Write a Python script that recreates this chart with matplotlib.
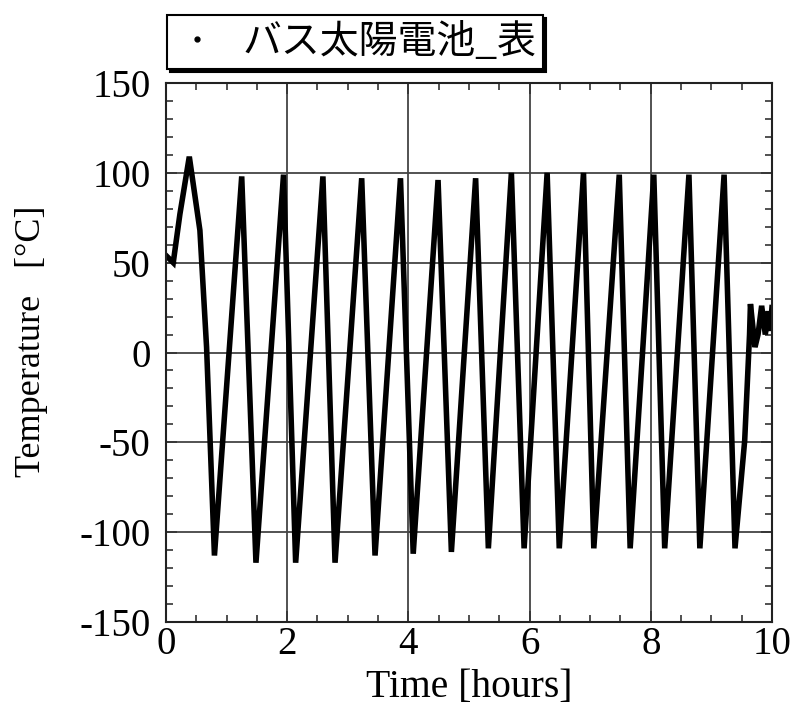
import numpy as np
import matplotlib.pyplot as plt
from matplotlib.lines import Line2D
from matplotlib.ticker import MultipleLocator

# 熱サイクル試験データ（バス太陽電池 表面温度）
time_h = [0.00, 0.12, 0.23, 0.385, 0.56, 0.67, 0.80,
          1.25, 1.485, 1.94, 2.14, 2.59, 2.79, 3.23, 3.45,
          3.87, 4.08, 4.49, 4.71, 5.11, 5.32, 5.70, 5.91,
          6.29, 6.49, 6.89, 7.06, 7.48, 7.66, 8.05, 8.23,
          8.63, 8.81, 9.21, 9.39, 9.55, 9.63, 9.645, 9.72,
          9.77, 9.83, 9.89, 9.94, 9.97, 10.0]
temp_c = [54, 50, 77, 109, 68, 3, -113,
          98, -117, 99, -117, 98, -117, 97, -113,
          97, -112, 96, -111, 97, -109, 100, -109,
          100, -109, 100, -109, 99, -109, 99, -109,
          99, -109, 99, -109, -49, 10, 27, 3,
          10, 26, 10, 23, 12, 25]

series_label = 'バス太陽電池_表'

plt.rcParams['font.family'] = ['Liberation Serif', 'DejaVu Serif']
plt.rcParams['axes.unicode_minus'] = False

fig = plt.figure(figsize=(7.96, 7.18), dpi=100)
ax = fig.add_axes([0.2085, 0.1337, 0.7613, 0.7507])

ax.plot(time_h, temp_c, color='black', lw=4.0, solid_joinstyle='miter')

ax.set_xlim(0, 10)
ax.set_ylim(-150, 150)
ax.xaxis.set_major_locator(MultipleLocator(2))
ax.xaxis.set_minor_locator(MultipleLocator(0.5))
ax.yaxis.set_major_locator(MultipleLocator(50))
ax.yaxis.set_minor_locator(MultipleLocator(10))
ax.grid(True, which='major', color='#444444', lw=1.3)
ax.set_axisbelow(True)

ax.tick_params(which='both', direction='in', top=True, right=True,
               labelsize=28, width=1.2, color='#333333')
ax.tick_params(which='major', length=8)
ax.tick_params(which='minor', length=5)
ax.tick_params(axis='y', pad=11)
ax.tick_params(axis='x', pad=3)
for sp in ax.spines.values():
    sp.set_linewidth(1.5)
    sp.set_color('#222222')

ax.set_xlabel('Time [hours]', fontsize=28.5, labelpad=4)
ax.set_ylabel('Temperature   [°C]', fontsize=26)
ax.yaxis.set_label_coords(-0.195, 0.52)

handle = Line2D([], [], marker='o', ms=3.5, color='black', ls='none')
leg = fig.legend([handle], [series_label], loc='upper left',
                 bbox_to_anchor=(0.21, 0.979),
                 prop={'family': ['Noto Sans CJK JP', 'DejaVu Sans'], 'size': 28},
                 frameon=True, fancybox=False,
                 shadow={'color': 'black', 'alpha': 1.0},
                 handlelength=1.2, handletextpad=0.55,
                 borderpad=0.18, borderaxespad=0.0)
leg.get_frame().set_edgecolor('black')
leg.get_frame().set_linewidth(1.5)

fig.savefig('out.png', dpi=100)
